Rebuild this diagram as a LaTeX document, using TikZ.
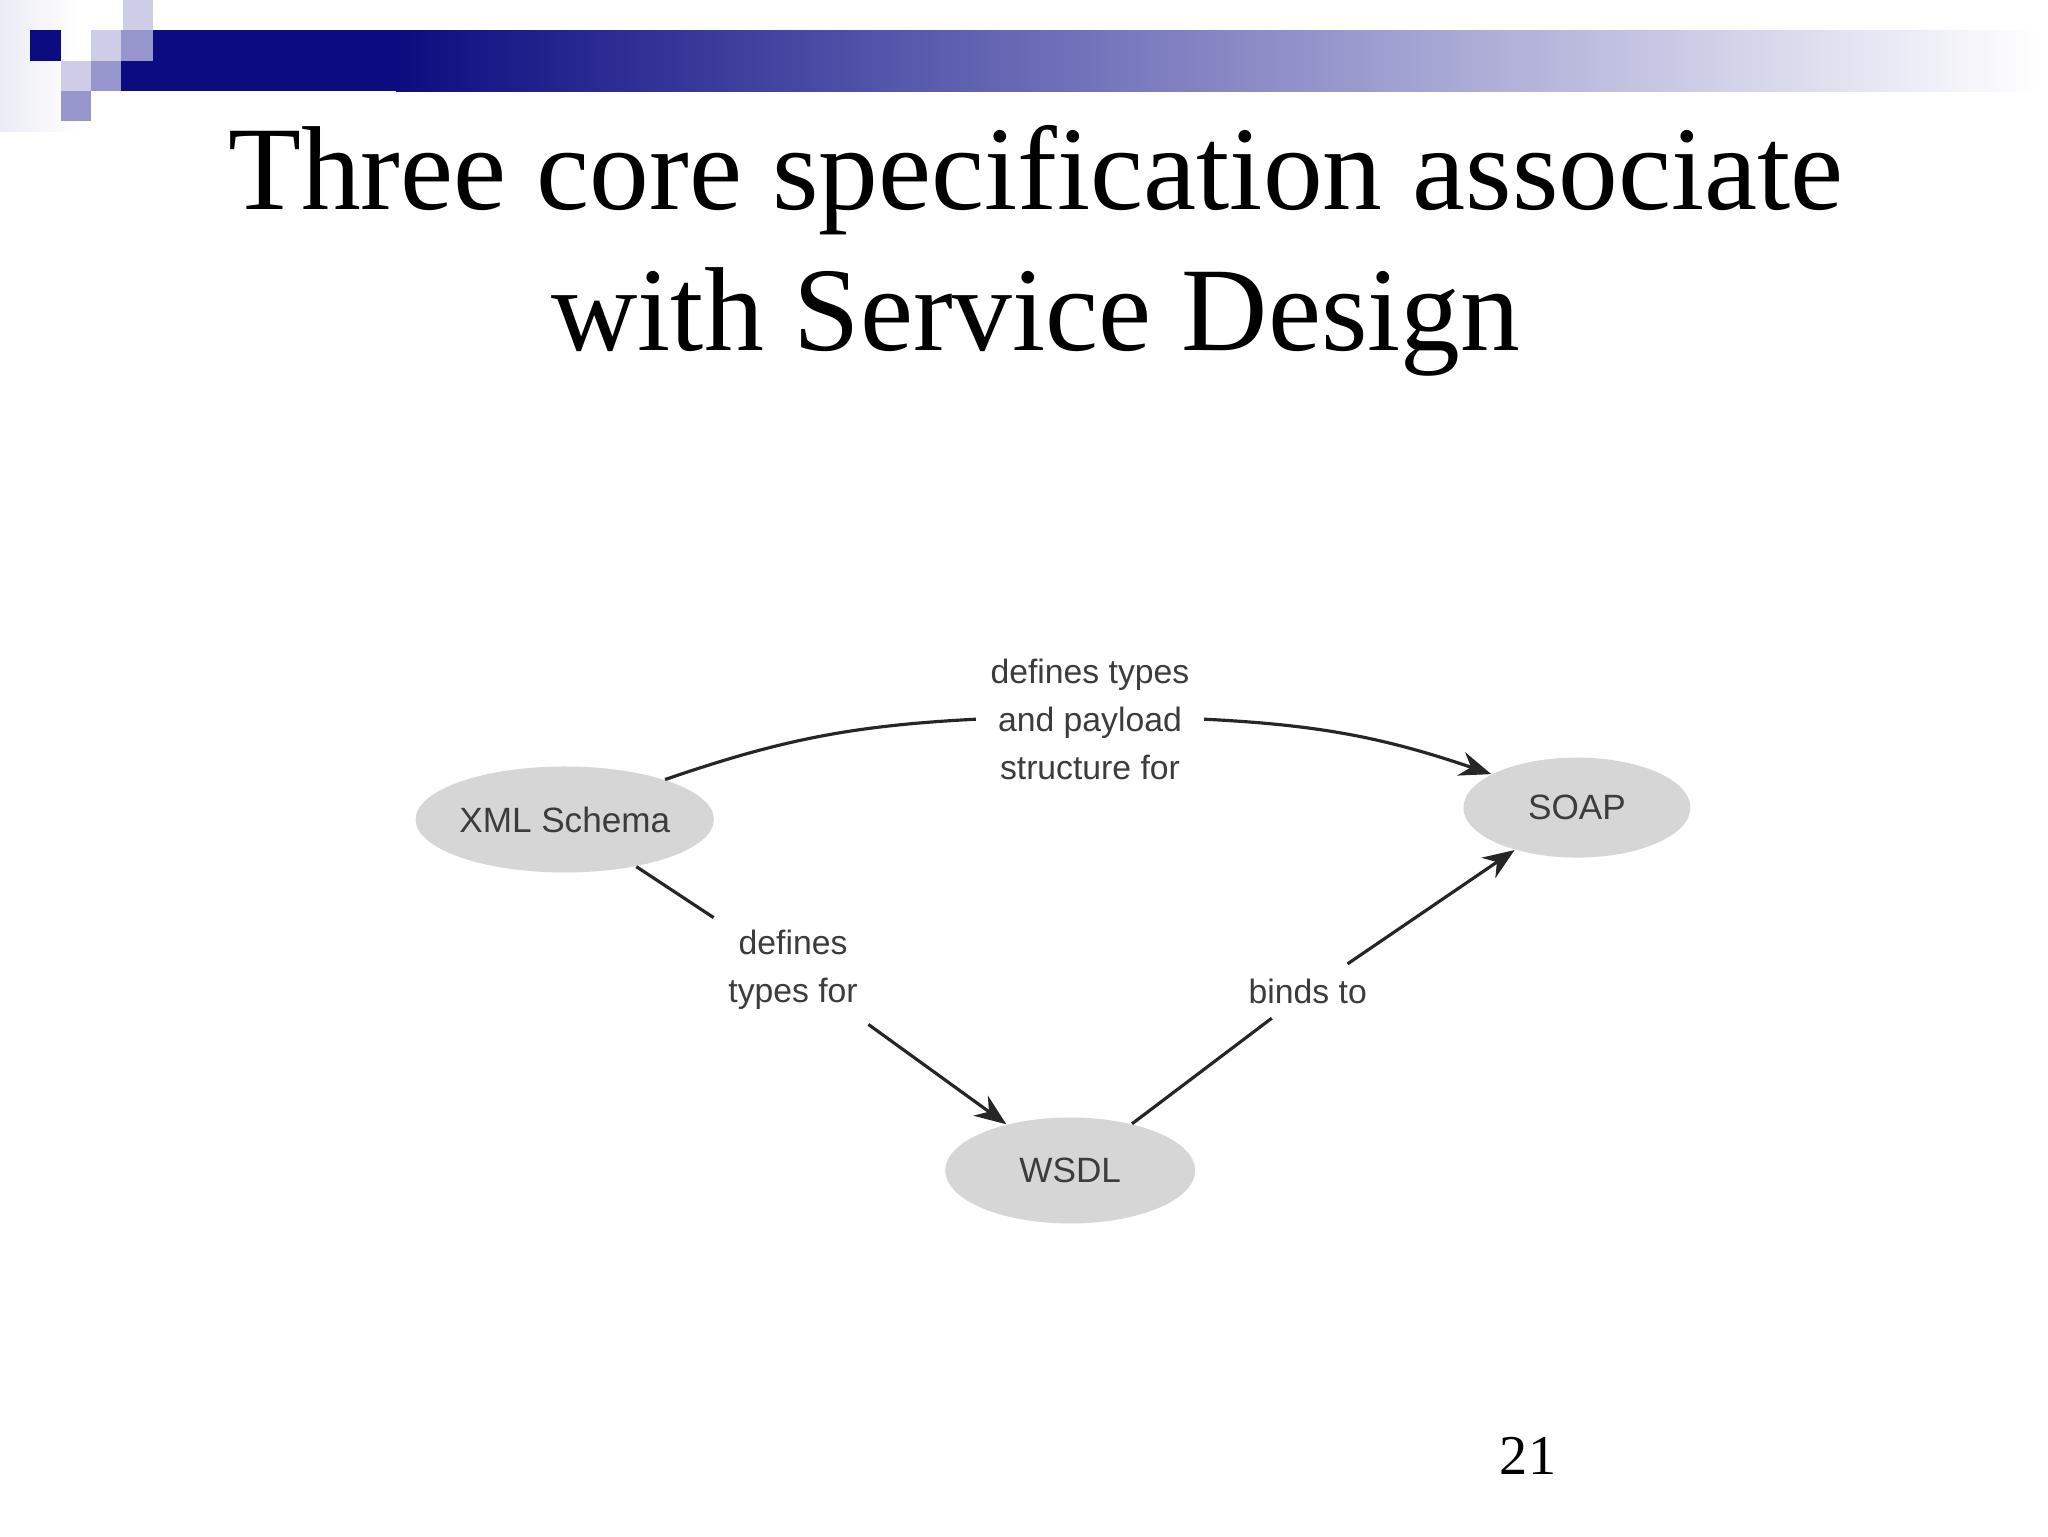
\documentclass[tikz,border=0pt]{standalone}
\usepackage{fontspec}
\setmainfont{Liberation Serif}
\setsansfont{Liberation Sans}
\usetikzlibrary{arrows.meta,shapes.geometric}
\definecolor{navy}{RGB}{12,12,128}
\definecolor{mid}{RGB}{110,110,185}
\definecolor{med}{RGB}{150,150,205}
\definecolor{lite}{RGB}{205,205,232}
\definecolor{ell}{RGB}{214,214,214}
\definecolor{txt}{RGB}{60,60,60}
\begin{document}
\begin{tikzpicture}[x=0.0132cm,y=-0.0132cm,
  ov/.style={ellipse,fill=ell,draw=none,font=\sffamily\fontsize{10}{12}\selectfont,text=txt,inner sep=0},
  lbl/.style={font=\sffamily\fontsize{9.6}{13.7}\selectfont,text=txt,align=center,inner sep=4pt},
  con/.style={draw=black!85,line width=0.9pt},
  arr/.style={con,-{Stealth[length=9pt,width=7pt]}}]
\useasboundingbox (0,0) rectangle (1552,1164);
\fill[white] (0,0) rectangle (1552,1164);
\shade[left color=lite!40,right color=white] (0,0) rectangle (60,100);
% header bar
\fill[navy] (116,23) rectangle (301,69);
\shade[left color=navy,right color=mid] (300,23) rectangle (801,69);
\shade[left color=mid,right color=white] (800,23) rectangle (1545,69);
\fill[navy] (92,46) rectangle (117,69);
\fill[med] (92,23) rectangle (116,46);
\fill[lite] (93,0) rectangle (116,23);
\fill[navy] (23,23) rectangle (46,46);
\fill[lite] (69,23) rectangle (92,46);
\fill[lite] (46,46) rectangle (69,69);
\fill[med] (69,46) rectangle (92,69);
\fill[med] (46,69) rectangle (69,92);
% title
\node[font=\fontsize{34}{40}\selectfont,align=center] (title) at (785,190) {Three core specification associate\\with Service Design};
% nodes
\node[ov,minimum width=2.82cm,minimum height=1.06cm] (xml) at (428,621) {XML Schema};
\node[ov,minimum width=2.27cm,minimum height=1.0cm] (soap) at (1195,612) {SOAP};
\node[ov,minimum width=2.5cm,minimum height=1.06cm] (wsdl) at (811,887) {WSDL};
\node[lbl] (l1) at (826,545) {defines types\\and payload\\structure for};
\node[lbl] (l2) at (601,735) {defines\\types for};
\node[lbl] (l3) at (991,751) {binds to};
\draw[con] (xml) to[bend left=8] (l1.west);
\draw[arr] (l1.east) to[bend left=8] (soap);
\draw[con] (xml) -- (l2);
\draw[arr] (l2) -- (wsdl);
\draw[con] (wsdl) -- (l3);
\draw[arr] (l3) -- (soap);
\node[font=\fontsize{16}{20}\selectfont] (pg) at (1158,1103) {21};
\end{tikzpicture}
\end{document}
